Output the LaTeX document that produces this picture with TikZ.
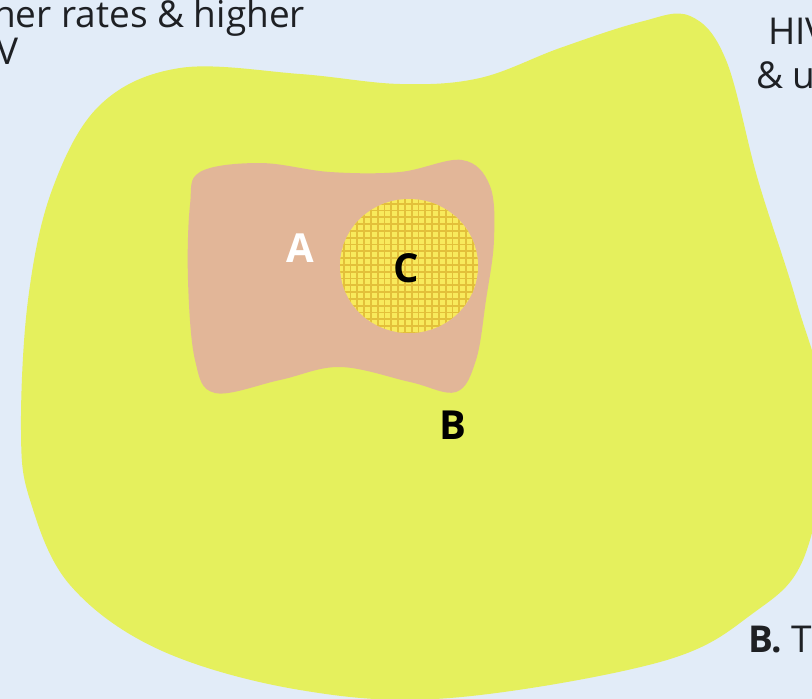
\documentclass[tikz,border=0pt]{standalone}
\usepackage{fontspec}
\setmainfont{Open Sans}
\definecolor{bgblue}{HTML}{E2ECF8}
\definecolor{limeblob}{HTML}{E5F05D}
\definecolor{peach}{HTML}{E2B698}
\definecolor{dotyellow}{HTML}{F8EA5C}
\definecolor{gridyellow}{HTML}{E3C03A}
\definecolor{inktext}{HTML}{1E2024}
\tikzset{
  bodytext/.style={font=\fontsize{37}{44}\selectfont, text=inktext, inner sep=0pt},
  regionlabel/.style={font=\bfseries\fontsize{40}{44}\selectfont, inner sep=0pt},
}
\begin{document}
\begin{tikzpicture}[x=1pt, y=-1pt]
  \useasboundingbox (0,0) rectangle (812,699);
  \clip (0,0) rectangle (812,699);
  \fill[bgblue] (0,0) rectangle (812,699);

  % outer region B
  \fill[limeblob] plot[smooth cycle, tension=0.6] coordinates {
    (21,430) (28,300) (52,190) (100,105) (180,68) (300,74) (400,84) (480,78)
    (560,48) (640,22) (690,16) (726,60) (758,180) (796,300) (826,420)
    (805,555) (752,614) (660,662) (450,698) (300,690) (160,650) (70,585) (30,500)};

  % inner region A
  \fill[peach] plot[smooth cycle, tension=0.6] coordinates {
    (200,172) (260,163) (330,172) (400,172) (462,160) (490,186) (494,240)
    (486,300) (476,360) (456,392) (410,382) (340,367) (280,380) (215,393)
    (195,360) (188,280) (190,205)};

  % region C with its grid texture
  \begin{scope}
    \clip (409,266) ellipse [x radius=69, y radius=67];
    \fill[dotyellow] (330,190) rectangle (490,340);
    \foreach \k in {0,...,24} {
      \draw[gridyellow, line width=1.8pt] (330+6.8*\k,190) -- (330+6.8*\k,340);
      \draw[gridyellow, line width=1.8pt] (330,190+6.8*\k) -- (490,190+6.8*\k);
    }
  \end{scope}

  % region labels
  \node[regionlabel, text=white] (labA) at (300,248) {A};
  \node[regionlabel, text=black] (labC) at (406,268) {C};
  \node[regionlabel, text=black] (labB) at (453,425) {B};

  % legend texts
  \node[bodytext, anchor=base west] (leftone) at (-7,27) {her rates \& higher};
  \node[bodytext, anchor=base west] (lefttwo) at (-14,64) {IV};
  \node[bodytext, anchor=base west] (rightone) at (768,44) {HIV};
  \node[bodytext, anchor=base west] (righttwo) at (756,88) {\& u};
  \node[bodytext, anchor=base west] (rightthree) at (748,652) {\textbf{B.} T};
\end{tikzpicture}
\end{document}
